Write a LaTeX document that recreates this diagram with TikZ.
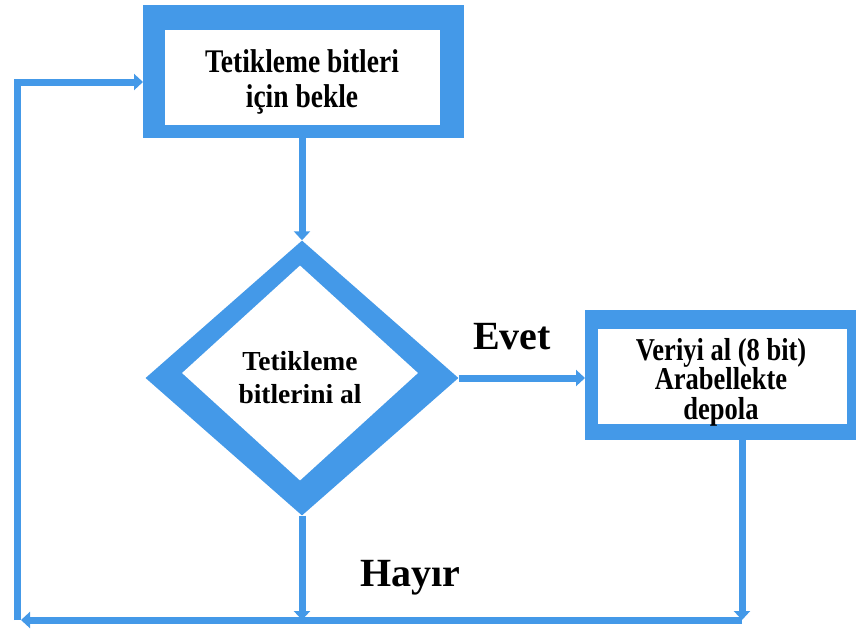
\documentclass[tikz,border=0pt]{standalone}
\usepackage{fontspec}
\setmainfont{Liberation Serif}
\usetikzlibrary{shapes.geometric,arrows.meta}
\definecolor{fc}{RGB}{68,153,232}
\newcommand{\tall}[1]{\scalebox{1}[1.2]{#1}}
\tikzset{
  outerbox/.style={fill=fc, inner sep=0pt, anchor=north west},
  innerbox/.style={fill=white, inner sep=0pt, anchor=north west},
  boxtext/.style={align=center, inner sep=0pt, text=black},
  conn/.style={draw=fc, line width=7pt},
  arr/.style={-{Triangle[length=9pt,width=16pt]}},
  lbl/.style={font=\bfseries\fontsize{40}{44}\selectfont, text=black, inner sep=0pt}
}
\begin{document}
\begin{tikzpicture}[x=1pt,y=-1pt]
\useasboundingbox (0,0) rectangle (856,630);
% top box
\node[outerbox, minimum width=321pt, minimum height=133pt] (waitO) at (143,5) {};
\node[innerbox, minimum width=275pt, minimum height=95pt] (waitI) at (165,30) {};
\node[boxtext, font=\bfseries\fontsize{27.5}{35}\selectfont] (wait) at (302,82) {\tall{Tetikleme bitleri}\\\tall{için bekle}};
% decision diamond
\node[diamond, fill=fc, inner sep=0pt, minimum width=313pt, minimum height=275pt] (decO) at (302,378) {};
\node[diamond, fill=white, inner sep=0pt, minimum width=236pt, minimum height=215pt] (decI) at (300,373) {};
\node[boxtext, font=\bfseries\fontsize{27.5}{33}\selectfont] (dec) at (300,378) {Tetikleme\\bitlerini al};
% right box
\node[outerbox, minimum width=271pt, minimum height=130pt] (storeO) at (585,310) {};
\node[innerbox, minimum width=249pt, minimum height=95pt] (storeI) at (598,329) {};
\node[boxtext, font=\bfseries\fontsize{26.5}{29.5}\selectfont] (store) at (721,382) {\tall{Veriyi al (8 bit)}\\\tall{Arabellekte}\\\tall{depola}};
% labels
\node[lbl] (evet) at (512,337) {Evet};
\node[lbl] (hayir) at (410,578) {Hayır};
% coordinates
\coordinate (bl) at (17,620);
\coordinate (tl) at (17,82);
\coordinate (br) at (742,620);
% connectors
\draw[conn,arr] (waitO.south -| decO.north) -- (decO.north);
\draw[conn,arr] (decO.east) -- (storeO.west |- decO.east);
\draw[conn,arr] (decO.south) -- (decO.south |- bl);
\draw[conn,arr] (storeO.south -| br) -- (br);
\draw[conn,arr] (br) -- ([xshift=4pt]bl);
\draw[conn,arr,line join=miter] (bl) -- (tl) -- (waitO.west |- tl);
\end{tikzpicture}
\end{document}
